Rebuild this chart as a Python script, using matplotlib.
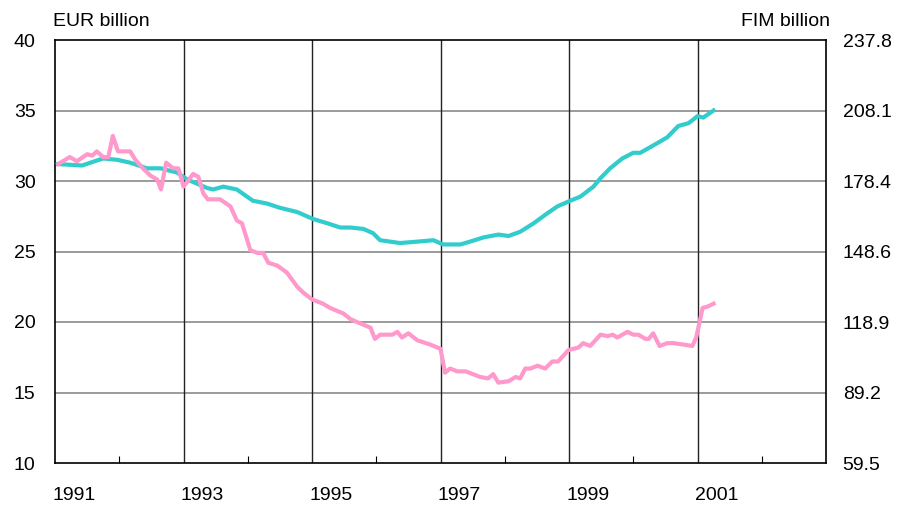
import numpy as np
import matplotlib.pyplot as plt
import matplotlib.transforms as mtransforms
from matplotlib.ticker import FixedLocator

plt.rcParams['font.family'] = ['Liberation Sans', 'DejaVu Sans']

# Cyan series (EUR billion), decimal years
cyan_years = [1991.05, 1991.42, 1991.75, 1991.97, 1992.17, 1992.43, 1992.64, 1992.90,
              1993.06, 1993.37, 1993.46, 1993.62, 1993.83, 1994.08, 1994.30, 1994.50,
              1994.77, 1995.02, 1995.24, 1995.44, 1995.60, 1995.80, 1995.95, 1996.06,
              1996.37, 1996.64, 1996.89, 1997.04, 1997.31, 1997.46, 1997.67, 1997.90,
              1998.06, 1998.24, 1998.45, 1998.66, 1998.82, 1999.02, 1999.18, 1999.38,
              1999.49, 1999.64, 1999.83, 2000.00, 2000.11, 2000.38, 2000.53, 2000.70,
              2000.86, 2001.00, 2001.09, 2001.25]
cyan_vals = [31.2, 31.1, 31.6, 31.5, 31.3, 30.9, 30.9, 30.6,
             30.1, 29.5, 29.4, 29.6, 29.4, 28.6, 28.4, 28.1,
             27.8, 27.3, 27.0, 26.7, 26.7, 26.6, 26.3, 25.8,
             25.6, 25.7, 25.8, 25.5, 25.5, 25.7, 26.0, 26.2,
             26.1, 26.4, 27.0, 27.7, 28.2, 28.6, 28.9, 29.6,
             30.2, 30.9, 31.6, 32.0, 32.0, 32.7, 33.1, 33.9,
             34.1, 34.6, 34.5, 35.0]

# Pink series (EUR billion), decimal years
pink_years = [1991.05, 1991.23, 1991.34, 1991.50, 1991.58, 1991.65, 1991.75, 1991.83,
              1991.90, 1991.98, 1992.17, 1992.25, 1992.37, 1992.48, 1992.59, 1992.65,
              1992.73, 1992.84, 1992.92, 1993.00, 1993.15, 1993.23, 1993.31, 1993.38,
              1993.57, 1993.73, 1993.83, 1993.91, 1994.04, 1994.15, 1994.24, 1994.32,
              1994.46, 1994.61, 1994.77, 1994.86, 1995.00, 1995.17, 1995.28, 1995.49,
              1995.60, 1995.75, 1995.91, 1995.98, 1996.06, 1996.25, 1996.33, 1996.40,
              1996.50, 1996.64, 1996.84, 1997.00, 1997.07, 1997.15, 1997.26, 1997.39,
              1997.62, 1997.74, 1997.82, 1997.90, 1998.06, 1998.17, 1998.24, 1998.32,
              1998.40, 1998.51, 1998.63, 1998.74, 1998.83, 1998.99, 1999.15, 1999.22,
              1999.33, 1999.49, 1999.60, 1999.68, 1999.75, 1999.91, 2000.00, 2000.08,
              2000.19, 2000.24, 2000.31, 2000.41, 2000.53, 2000.63, 2000.78, 2000.92,
              2000.98, 2001.08, 2001.16, 2001.25]
pink_vals = [31.2, 31.7, 31.4, 31.9, 31.8, 32.1, 31.7, 31.7,
             33.2, 32.1, 32.1, 31.5, 30.9, 30.4, 30.1, 29.4,
             31.3, 30.9, 30.9, 29.6, 30.5, 30.3, 29.1, 28.7,
             28.7, 28.2, 27.2, 27.0, 25.1, 24.9, 24.9, 24.2,
             24.0, 23.5, 22.5, 22.1, 21.6, 21.3, 21.0, 20.6,
             20.2, 19.9, 19.6, 18.8, 19.1, 19.1, 19.3, 18.9,
             19.2, 18.7, 18.4, 18.1, 16.4, 16.7, 16.5, 16.5,
             16.1, 16.0, 16.3, 15.7, 15.8, 16.1, 16.0, 16.7,
             16.7, 16.9, 16.7, 17.2, 17.2, 18.0, 18.2, 18.5,
             18.3, 19.1, 19.0, 19.1, 18.9, 19.3, 19.1, 19.1,
             18.8, 18.8, 19.2, 18.3, 18.5, 18.5, 18.4, 18.3,
             18.9, 21.0, 21.1, 21.3]

eur_ticks = [10, 15, 20, 25, 30, 35, 40]
fim_labels = ["59.5", "89.2", "118.9", "148.6", "178.4", "208.1", "237.8"]
year_labels = [1991, 1993, 1995, 1997, 1999, 2001]

fig = plt.figure(figsize=(9, 5.05), dpi=100)
ax = fig.add_axes([55 / 900, 42 / 505, 771 / 900, 423 / 505])

ax.set_xlim(1991, 2003)
ax.set_ylim(10, 40)

# grid lines
for v in eur_ticks[1:-1]:
    ax.axhline(v, color="#808080", lw=1.1, zorder=1)
for yr in range(1993, 2003, 2):
    ax.axvline(yr, color="#222222", lw=1.0, zorder=1)

ax.plot(cyan_years, cyan_vals, color="#33CCCC", lw=3, zorder=3, solid_joinstyle="round")
ax.plot(pink_years, pink_vals, color="#FF99CC", lw=3, zorder=3, solid_joinstyle="round")

for s in ax.spines.values():
    s.set_color("black")
    s.set_linewidth(1.2)

ax.set_yticks(eur_ticks)
ax.set_yticklabels([str(v) for v in eur_ticks])
ax.tick_params(axis="y", length=0, pad=14, labelsize=14)

ax.xaxis.set_major_locator(FixedLocator(year_labels))
ax.set_xticklabels([str(y) for y in year_labels], ha="left")
ax.xaxis.set_minor_locator(FixedLocator(list(range(1992, 2003, 2))))
ax.tick_params(axis="x", which="major", length=0, pad=17, labelsize=14)
ax.tick_params(axis="x", which="minor", direction="in", length=5, width=0.8)
shift = mtransforms.ScaledTranslation(-3 / 100, 0, fig.dpi_scale_trans)
for lab in ax.get_xticklabels():
    lab.set_transform(lab.get_transform() + shift)

ax2 = ax.twinx()
ax2.set_ylim(10, 40)
ax2.set_yticks(eur_ticks)
ax2.set_yticklabels(fim_labels)
ax2.tick_params(axis="y", length=0, pad=12, labelsize=14)
for s in ax2.spines.values():
    s.set_visible(False)

fig.text(53 / 900, 1 - 22 / 505, "EUR billion", fontsize=14, va="center", ha="left")
fig.text(830 / 900, 1 - 22 / 505, "FIM billion", fontsize=14, va="center", ha="right")

fig.savefig("out.png", dpi=100)
